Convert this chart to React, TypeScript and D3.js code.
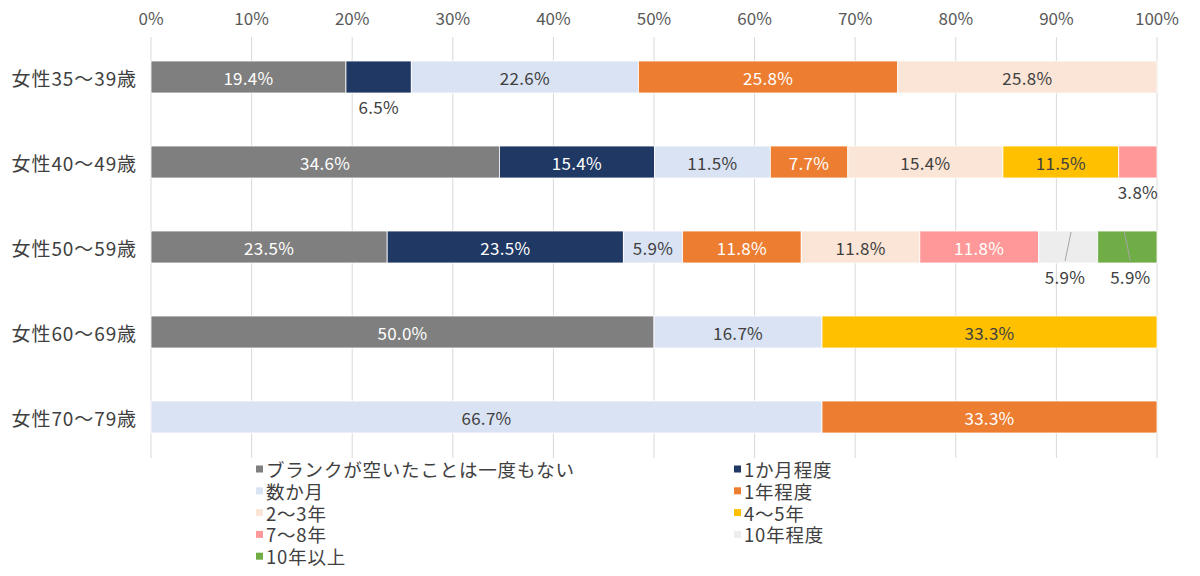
import React from "react";
import * as d3 from "d3";

const categories = ["女性35～39歳", "女性40～49歳", "女性50～59歳", "女性60～69歳", "女性70～79歳"];
const seriesNames = [
  "ブランクが空いたことは一度もない",
  "1か月程度",
  "数か月",
  "1年程度",
  "2～3年",
  "4～5年",
  "7～8年",
  "10年程度",
  "10年以上",
];
const seriesColors = ["#7f7f7f", "#203864", "#dae3f3", "#ed7d31", "#fbe5d6", "#ffc000", "#ff9999", "#ededed", "#70ad47"];
const labelDark = [false, false, true, false, true, true, false, true, true];

// values[row][series] in percent (0 = absent)
const values: number[][] = [
  [19.4, 6.5, 22.6, 25.8, 25.8, 0, 0, 0, 0],
  [34.6, 15.4, 11.5, 7.7, 15.4, 11.5, 3.8, 0, 0],
  [23.5, 23.5, 5.9, 11.8, 11.8, 0, 11.8, 5.9, 5.9],
  [50.0, 0, 16.7, 0, 0, 33.3, 0, 0, 0],
  [0, 0, 66.7, 33.3, 0, 0, 0, 0, 0],
];
const ticks = [0, 10, 20, 30, 40, 50, 60, 70, 80, 90, 100];
// labels drawn below the bar: [row, series, leaderDirection]
const outsideLabels: [number, number, number][] = [
  [0, 1, 0],
  [1, 6, 0],
  [2, 7, -1],
  [2, 8, 1],
];

const FONT = "'Noto Sans CJK JP', 'Noto Sans', sans-serif";

export default function App() {
  const W = 1200;
  const H = 576;
  const x = d3.scaleLinear().domain([0, 100]).range([151, 1157]);
  const y = d3.scaleBand<string>().domain(categories).range([34.5, 459.5]).paddingInner(0.62).paddingOuter(0.31);
  const bh = 32;

  const rows = values.map((vals, ri) => {
    const total = d3.sum(vals);
    let acc = 0;
    return vals.map((v, si) => {
      const start = (acc / total) * 100;
      acc += v;
      const end = (acc / total) * 100;
      return { ri, si, v, start, end };
    });
  });

  const isOutside = (ri: number, si: number) => outsideLabels.find((o) => o[0] === ri && o[1] === si);

  const legendCols = [256, 734];
  const legendY0 = 469;
  const legendStep = 21.8;

  return (
    <svg width={W} height={H} style={{ position: "absolute", left: 0, top: 0, background: "#fff" }} fontFamily={FONT}>
      <rect width={W} height={H} fill="#fff" />
      {ticks.map((t) => (
        <g key={t}>
          <line x1={x(t)} x2={x(t)} y1={37} y2={458} stroke="#d9d9d9" strokeWidth={1} />
          <text x={x(t)} y={17} textAnchor="middle" dominantBaseline="central" fontSize={17} fill="#595959">
            {t}%
          </text>
        </g>
      ))}
      {categories.map((c) => (
        <text key={c} x={137} y={(y(c) ?? 0) + y.bandwidth() / 2} textAnchor="end" dominantBaseline="central" fontSize={19} letterSpacing={0.9} fill="#404040">
          {c}
        </text>
      ))}
      {rows.map((segs, ri) => {
        const cy = (y(categories[ri]) ?? 0) + y.bandwidth() / 2;
        return (
          <g key={ri}>
            {segs
              .filter((s) => s.v > 0)
              .map((s) => (
                <rect
                  key={s.si}
                  x={x(s.start)}
                  y={cy - bh / 2}
                  width={x(s.end) - x(s.start)}
                  height={bh}
                  fill={seriesColors[s.si]}
                  stroke="#fff"
                  strokeWidth={0.8}
                />
              ))}
            {segs
              .filter((s) => s.v > 0)
              .map((s) => {
                const mid = (x(s.start) + x(s.end)) / 2;
                const o = isOutside(ri, s.si);
                const label = s.v.toFixed(1) + "%";
                if (o) {
                  const dir = o[2];
                  const lx = mid + dir * 3;
                  return (
                    <g key={"l" + s.si}>
                      {dir !== 0 && (
                        <line x1={mid - dir * 3} y1={cy - 15} x2={lx} y2={cy + 14} stroke="#a6a6a6" strokeWidth={1} />
                      )}
                      <text x={lx} y={cy + 29} textAnchor="middle" dominantBaseline="central" fontSize={17} letterSpacing={0.3} fill="#404040">
                        {label}
                      </text>
                    </g>
                  );
                }
                return (
                  <text
                    key={"l" + s.si}
                    x={mid}
                    y={cy}
                    textAnchor="middle"
                    dominantBaseline="central"
                    fontSize={17}
                    letterSpacing={0.3}
                    fill={labelDark[s.si] ? "#404040" : "#ffffff"}
                  >
                    {label}
                  </text>
                );
              })}
          </g>
        );
      })}
      {seriesNames.map((n, i) => {
        const col = i % 2;
        const row = Math.floor(i / 2);
        const lx = legendCols[col];
        const ly = legendY0 + row * legendStep;
        return (
          <g key={n}>
            <rect x={lx} y={ly - 3.5} width={7} height={7} fill={seriesColors[i]} />
            <text x={lx + 10} y={ly} dominantBaseline="central" fontSize={18.5} letterSpacing={0.8} fill="#404040">
              {n}
            </text>
          </g>
        );
      })}
    </svg>
  );
}
